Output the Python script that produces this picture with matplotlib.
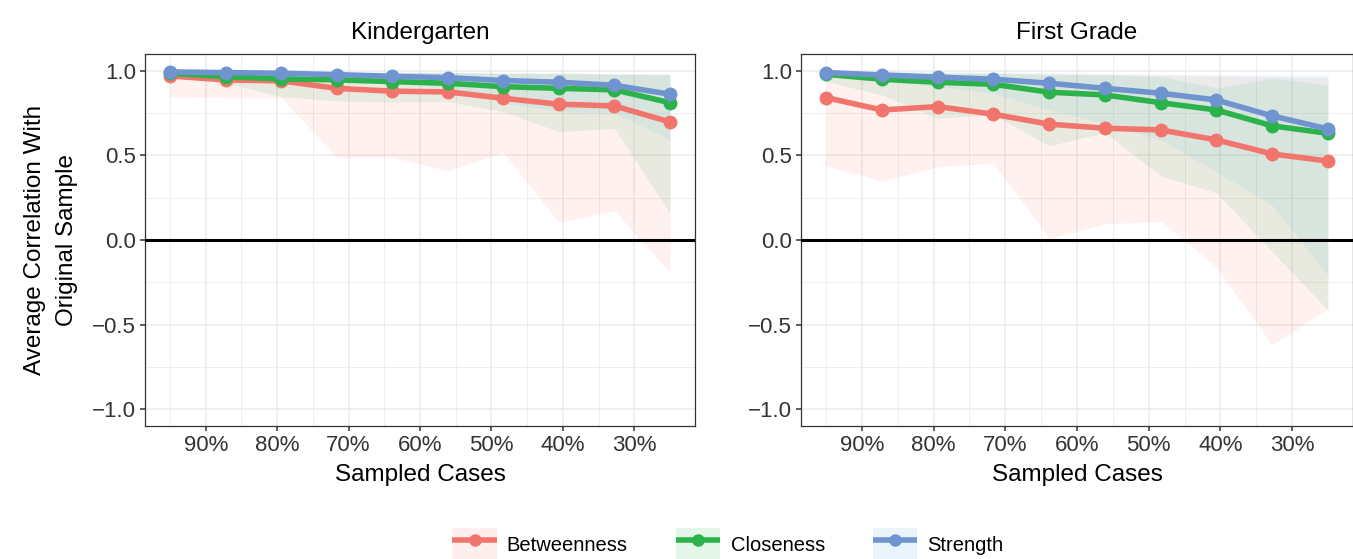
import numpy as np
import matplotlib
matplotlib.use("Agg")
import matplotlib.pyplot as plt
from matplotlib.lines import Line2D
from matplotlib.patches import Patch
from matplotlib.legend_handler import HandlerTuple

plt.rcParams['font.family'] = ['Liberation Sans Narrow', 'Liberation Sans', 'DejaVu Sans']

# proportion of cases sampled (x axis is reversed)
sampled = [0.95, 0.8722, 0.7944, 0.7167, 0.6389, 0.5611, 0.4833, 0.4056, 0.3278, 0.25]
measures = ["Betweenness", "Closeness", "Strength"]
panels = ["Kindergarten", "First Grade"]

# Kindergarten
k_mean = {
    "Betweenness": [0.970, 0.947, 0.941, 0.897, 0.880, 0.876, 0.838, 0.803, 0.793, 0.698],
    "Closeness":   [0.986, 0.966, 0.953, 0.947, 0.937, 0.927, 0.907, 0.897, 0.888, 0.812],
    "Strength":    [0.994, 0.990, 0.986, 0.978, 0.968, 0.960, 0.943, 0.933, 0.915, 0.862],
}
k_lower = {
    "Betweenness": [0.848, 0.842, 0.842, 0.489, 0.489, 0.410, 0.519, 0.102, 0.173, -0.191],
    "Closeness":   [0.960, 0.930, 0.848, 0.822, 0.815, 0.818, 0.759, 0.641, 0.661, 0.158],
    "Strength":    [0.980, 0.970, 0.955, 0.945, 0.925, 0.900, 0.810, 0.760, 0.750, 0.592],
}
k_upper = {
    "Betweenness": [1.000, 0.995, 0.995, 0.990, 0.990, 0.990, 0.985, 0.985, 0.980, 0.975],
    "Closeness":   [1.000, 0.995, 0.995, 0.990, 0.990, 0.990, 0.985, 0.985, 0.980, 0.980],
    "Strength":    [1.000, 1.000, 0.998, 0.995, 0.995, 0.993, 0.990, 0.988, 0.985, 0.982],
}

# First Grade
f_mean = {
    "Betweenness": [0.842, 0.769, 0.789, 0.744, 0.685, 0.661, 0.651, 0.592, 0.509, 0.467],
    "Closeness":   [0.980, 0.951, 0.933, 0.921, 0.874, 0.858, 0.812, 0.769, 0.675, 0.631],
    "Strength":    [0.990, 0.976, 0.963, 0.951, 0.927, 0.897, 0.868, 0.828, 0.734, 0.657],
}
f_lower = {
    "Betweenness": [0.438, 0.349, 0.434, 0.454, 0.010, 0.095, 0.112, -0.158, -0.621, -0.404],
    "Closeness":   [0.937, 0.858, 0.720, 0.740, 0.558, 0.635, 0.379, 0.280, -0.069, -0.414],
    "Strength":    [0.966, 0.937, 0.907, 0.868, 0.769, 0.690, 0.592, 0.404, 0.207, -0.207],
}
f_upper = {
    "Betweenness": [0.990, 0.985, 0.985, 0.985, 0.980, 0.980, 0.975, 0.970, 0.965, 0.960],
    "Closeness":   [1.000, 0.995, 0.990, 0.985, 0.980, 0.975, 0.966, 0.900, 0.957, 0.917],
    "Strength":    [1.000, 0.998, 0.995, 0.992, 0.990, 0.985, 0.980, 0.976, 0.976, 0.976],
}

line_colors = {"Betweenness": "#F2756D", "Closeness": "#2CB24A", "Strength": "#7094CF"}
band_colors = {"Betweenness": "#F8766D", "Closeness": "#2CB24A", "Strength": "#4FB0D8"}
band_alpha = 0.1

fig = plt.figure(figsize=(13.53, 5.59), dpi=100)
ax_l = fig.add_axes([145 / 1353, 133 / 559, 550 / 1353, 372 / 559])
ax_r = fig.add_axes([801 / 1353, 133 / 559, 552 / 1353, 372 / 559])

data = [(ax_l, k_mean, k_lower, k_upper), (ax_r, f_mean, f_lower, f_upper)]

for (ax, mean, lower, upper), title in zip(data, panels):
    for m in measures:
        ax.fill_between(sampled, lower[m], upper[m], color=band_colors[m],
                        alpha=band_alpha, linewidth=0, zorder=2)
    ax.axhline(0, color='black', linewidth=2.2, zorder=3)
    for m in measures:
        ax.plot(sampled, mean[m], color=line_colors[m], linewidth=4,
                marker='o', markersize=9, zorder=4)

    ax.set_xlim(0.985, 0.215)
    ax.set_ylim(-1.1, 1.1)
    ax.set_xticks([0.9, 0.8, 0.7, 0.6, 0.5, 0.4, 0.3])
    ax.set_xticklabels(["90%", "80%", "70%", "60%", "50%", "40%", "30%"])
    ax.set_xticks([0.95, 0.85, 0.75, 0.65, 0.55, 0.45, 0.35], minor=True)
    ax.set_yticks([-1.0, -0.5, 0.0, 0.5, 1.0])
    ax.set_yticklabels(["\u22121.0", "\u22120.5", "0.0", "0.5", "1.0"])
    ax.set_yticks([-0.75, -0.25, 0.25, 0.75], minor=True)
    ax.grid(which='major', color='#EBEBEB', linewidth=1.1, zorder=0)
    ax.grid(which='minor', color='#EBEBEB', linewidth=0.6, zorder=0)
    ax.set_axisbelow(True)
    ax.tick_params(which='major', length=3.5, width=1.1, color='#333333',
                   labelsize=16, labelcolor='#333333', pad=3)
    ax.tick_params(which='minor', length=0)
    for sp in ax.spines.values():
        sp.set_color('#333333')
        sp.set_linewidth(0.9)
    ax.set_title(title, fontsize=17.5, pad=11)
    ax.set_xlabel("Sampled Cases", fontsize=17.5, labelpad=6)

ax_l.set_ylabel("Average Correlation With\nOriginal Sample", fontsize=17.5,
                labelpad=10, linespacing=1.6)

handles = []
for m in measures:
    bg = Patch(facecolor=band_colors[m], alpha=band_alpha + 0.02, edgecolor='none')
    ln = Line2D([], [], color=line_colors[m], linewidth=4, marker='o', markersize=8,
                solid_capstyle='butt')
    handles.append((bg, ln))

fig.legend(handles, measures, loc='center', bbox_to_anchor=(728 / 1353, 1 - 545 / 559),
           ncol=3, frameon=False, fontsize=14.5, handlelength=2.2, handleheight=2.2,
           columnspacing=2.4, handletextpad=0.5,
           handler_map={tuple: HandlerTuple(ndivide=1, pad=0)})

fig.savefig("out.png", dpi=100)
